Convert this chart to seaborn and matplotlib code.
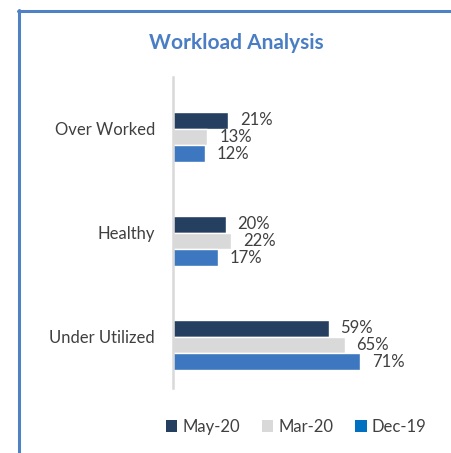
import pandas as pd
import seaborn as sns
import matplotlib.pyplot as plt
from matplotlib.patches import Patch
from matplotlib.lines import Line2D
from matplotlib.transforms import ScaledTranslation

# Chart data
categories = ["Over Worked", "Healthy", "Under Utilized"]
periods = ["May-20", "Mar-20", "Dec-19"]
may_20 = [21, 20, 59]
mar_20 = [13, 22, 65]
dec_19 = [12, 17, 71]

bar_colors = ["#243f60", "#d9d9d9", "#3d77c0"]
legend_colors = ["#243f60", "#d9d9d9", "#0070c0"]
text_color = "#404040"

rows = []
for period, values in zip(periods, [may_20, mar_20, dec_19]):
    for cat, v in zip(categories, values):
        rows.append({"category": cat, "period": period, "value": v})
df = pd.DataFrame(rows)

sns.set_style("white")
plt.rcParams["font.family"] = ["Lato", "DejaVu Sans"]

fig = plt.figure(figsize=(4.52, 4.53), dpi=100)
fig.patch.set_facecolor("white")
ax = fig.add_axes([173 / 452, 65 / 453, 264 / 452, 311 / 453])

sns.barplot(data=df, x="value", y="category", hue="period", order=categories,
            hue_order=periods, palette=bar_colors, orient="h", width=0.48,
            saturation=1, gap=0, legend=False, ax=ax)

for cont in ax.containers:
    ax.bar_label(cont, fmt="%d%%", padding=8.5, fontsize=12, color=text_color)

ax.set_xlim(0, 100)
ax.set_ylim(2.413, -0.577)
ax.set_xlabel("")
ax.set_ylabel("")
ax.set_xticks([])
ax.tick_params(axis="y", length=0, pad=13, labelsize=12, labelcolor=text_color)
shift = ScaledTranslation(0, 8.5 / 100, fig.dpi_scale_trans)
for lbl in ax.get_yticklabels():
    lbl.set_transform(lbl.get_transform() + shift)

for side in ["top", "right", "bottom"]:
    ax.spines[side].set_visible(False)
ax.spines["left"].set_color("#d9d9d9")
ax.spines["left"].set_linewidth(1.8)

fig.text(236 / 452, 1 - 43 / 453, "Workload Analysis", ha="center", va="center",
         fontsize=15, fontweight="bold", color="#4a7ec4")

handles = [Patch(facecolor=c, edgecolor="none", label=p) for c, p in zip(legend_colors, periods)]
fig.legend(handles=handles, loc="center", bbox_to_anchor=(296 / 452, 26 / 453), ncol=3,
           frameon=False, fontsize=12, handlelength=0.7, handleheight=0.7,
           handletextpad=0.3, columnspacing=1.3, labelcolor=text_color)

# blue frame on left and top
fig.add_artist(Line2D([19 / 452, 19 / 452], [0, 1 - 10 / 453], color="#4f81c4", lw=2.2))
fig.add_artist(Line2D([18 / 452, 1], [1 - 11 / 453, 1 - 11 / 453], color="#4f81c4", lw=2.2))

fig.savefig("out.png", dpi=100, facecolor="white")
